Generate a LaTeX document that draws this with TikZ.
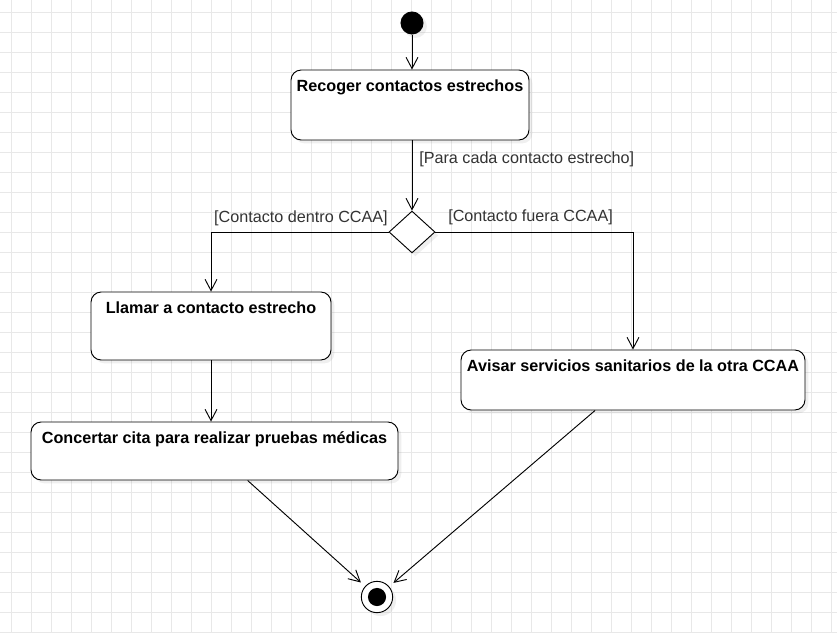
\documentclass[tikz,border=0pt]{standalone}
\usepackage{fontspec}
\setmainfont{Liberation Sans}
\usetikzlibrary{arrows.meta,fit,calc,shapes.geometric,shadows}

\begin{document}
\begin{tikzpicture}[x=0.0265cm,y=-0.0265cm,
	gridline/.style={draw=black!9,line width=0.45pt},
	actbox/.style={draw,fill=white,line width=0.7pt,rounded corners=0.27cm,inner sep=0pt,
		drop shadow={opacity=0.12,shadow xshift=0.09cm,shadow yshift=-0.09cm},
		label={[acttext]north:#1}},
	acttext/.style={anchor=north,inner sep=0pt,yshift=-0.27cm,font=\bfseries\fontsize{12.2}{14.6}\selectfont},
	guard/.style={inner sep=0pt,text=black!80,font=\fontsize{12.2}{14.6}\selectfont},
	flow/.style={line width=0.7pt,-{Straight Barb[length=8.5pt,width=9pt]}},
	startnode/.style={circle,fill=black,minimum size=0.61cm,inner sep=0pt,
		drop shadow={opacity=0.12,shadow xshift=0.09cm,shadow yshift=-0.09cm}},
	endnode/.style={circle,draw,fill=white,line width=0.7pt,minimum size=0.83cm,inner sep=0pt,outer sep=0.16cm,
		drop shadow={opacity=0.12,shadow xshift=0.09cm,shadow yshift=-0.09cm}},
	decision/.style={diamond,draw,fill=white,line width=0.7pt,minimum width=1.22cm,minimum height=1.11cm,inner sep=0pt,
		drop shadow={opacity=0.12,shadow xshift=0.09cm,shadow yshift=-0.09cm}}
	]
	\useasboundingbox (0,0) rectangle (837,633);
	\fill[white] (0,0) rectangle (837,633);
	% fondo cuadriculado
	\foreach \gx in {11.7,31.7,...,831.7} \draw[gridline] (\gx,0) -- (\gx,633);
	\foreach \gy in {12.7,32.7,...,632.7} \draw[gridline] (0,\gy) -- (837,\gy);

	\node[startnode] (inicio) at (412,23) {};
	\node[actbox={Recoger contactos estrechos},fit={(291,70) (529,140)}] (recoger) {};
	\node[decision] (dec) at (412,232) {};
	\node[actbox={Llamar a contacto estrecho},fit={(91,292) (331,360)}] (llamar) {};
	\node[actbox={Avisar servicios sanitarios de la otra CCAA},fit={(461,350) (805,410)}] (avisar) {};
	\node[actbox={Concertar cita para realizar pruebas médicas},fit={(31,422) (398,480)}] (concertar) {};
	\node[endnode] (fin) at (377,597) {};
	\fill (fin.center) circle (0.24cm);

	\node[guard,anchor=west] (gcada) at (419,159.5) {[Para cada contacto estrecho]};
	\node[guard,anchor=east] (gdentro) at (388,218.5) {[Contacto dentro CCAA]};
	\node[guard,anchor=west] (gfuera) at (448,217.5) {[Contacto fuera CCAA]};

	\draw[flow] (inicio.south) -- (inicio |- recoger.north);
	\draw[flow] (dec |- recoger.south) -- (dec.north);
	\draw[flow] (dec.west) -| (llamar.north);
	\draw[flow] (dec.east) -| (avisar.north);
	\draw[flow] (llamar.south) -- (llamar.south |- concertar.north);
	\draw[flow] ($(concertar.south west)!0.59!(concertar.south east)$) -- (fin);
	\draw[flow] ($(avisar.south west)!0.39!(avisar.south east)$) -- (fin);
\end{tikzpicture}
\end{document}
